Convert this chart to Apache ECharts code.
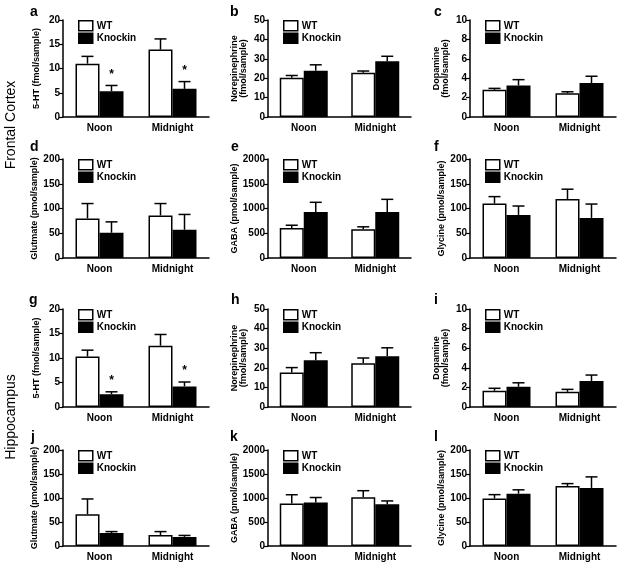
<!DOCTYPE html>
<html>
<head>
<meta charset="utf-8">
<script src="https://cdn.jsdelivr.net/npm/echarts@6/dist/echarts.min.js"></script>
<style>
html,body{margin:0;padding:0;background:#fff;}
#chart{width:624px;height:566px;}
</style>
</head>
<body>
<div id="chart"></div>
<script>
// ---------- data ----------
const categories = ['Noon', 'Midnight'];
const seriesNames = ['WT', 'Knockin'];
const panelLetters = ['a','b','c','d','e','f','g','h','i','j','k','l'];
const regionLabels = ['Frontal Cortex', 'Hippocampus'];
const yNames = [
  '5-HT (fmol/sample)', 'Norepinephrine\n(fmol/sample)', 'Dopamine\n(fmol/sample)',
  'Glutmate (pmol/sample)', 'GABA (pmol/sample)', 'Glycine (pmol/sample)',
  '5-HT (fmol/sample)', 'Norepinephrine\n(fmol/sample)', 'Dopamine\n(fmol/sample)',
  'Glutmate (pmol/sample)', 'GABA (pmol/sample)', 'Glycine (pmol/sample)'
];
const yMax      = [20, 50, 10, 200, 2000, 200, 20, 50, 10, 200, 2000, 200];
const yInterval = [5, 10, 2, 50, 500, 50, 5, 10, 2, 50, 500, 50];

// means and SEM per panel: [Noon, Midnight]
const wtMean = [[11.0,13.9],[20.2,22.8],[2.8,2.45],[80,86],[607,580],[110,119],
                [10.3,12.5],[17.6,22.3],[1.66,1.55],[66,23],[883,1017],[99,125]];
const wtSem  = [[1.5,2.2],[1.2,0.9],[0.15,0.15],[30,24],[55,50],[14,20],
                [1.3,2.3],[2.5,2.7],[0.25,0.25],[32,7],[185,135],[8,5]];
const kiMean = [[5.3,5.8],[23.9,28.7],[3.25,3.5],[51,57],[930,930],[87,81],
                [2.6,4.2],[23.9,25.9],[2.07,2.66],[27,19],[905,869],[109,121]];
const kiSem  = [[1.2,1.5],[3.0,2.6],[0.6,0.7],[22,31],[195,255],[18,28],
                [0.5,0.9],[3.8,4.3],[0.4,0.6],[3,3],[105,70],[8,23]];
const kiSig  = [[1,1],[0,0],[0,0],[0,0],[0,0],[0,0],
                [1,1],[0,0],[0,0],[0,0],[0,0],[0,0]];

// ---------- layout ----------
const FONT = 'Liberation Sans, Arial, Helvetica, sans-serif';
const cols = [{left:63, width:146}, {left:268, width:143}, {left:470, width:146}];
const rows = [{top:20, height:97}, {top:159, height:99}, {top:309, height:98}, {top:450, height:96}];
const letterPos = [[30,19],[230,19],[434,19],[30,154],[231,154],[434,154],
                   [29,307],[231,307],[434,307],[31,444],[230,444],[434,444]];
const BAR_W = 24;

const chart = echarts.init(document.getElementById('chart'), null, {renderer:'canvas'});

const grid = [], xAxis = [], yAxis = [], series = [], legend = [], graphic = [];

function errRender(offset) {
  return function (params, api) {
    const cat = api.value(0), mean = api.value(1), sem = api.value(2), sig = api.value(3);
    const base = api.coord([cat, mean]);
    const top = api.coord([cat, mean + sem]);
    const x = base[0] + offset;
    const children = [
      {type:'line', shape:{x1:x, y1:base[1], x2:x, y2:top[1]}, style:{stroke:'#000', lineWidth:1.5}},
      {type:'line', shape:{x1:x-6, y1:top[1], x2:x+6, y2:top[1]}, style:{stroke:'#000', lineWidth:1.5}}
    ];
    if (sig) {
      children.push({type:'text', x:x, y:top[1]-5,
        style:{text:'*', font:'bold 12px ' + FONT, fill:'#000', align:'center', verticalAlign:'bottom'}});
    }
    return {type:'group', children};
  };
}

for (let i = 0; i < 12; i++) {
  const r = Math.floor(i / 3), c = i % 3;
  grid.push({left: cols[c].left, width: cols[c].width, top: rows[r].top, height: rows[r].height, containLabel:false});
  xAxis.push({
    type:'category', gridIndex:i, data:categories,
    axisLine:{show:true, lineStyle:{color:'#000', width:1.5}},
    axisTick:{show:false},
    axisLabel:{color:'#000', fontWeight:'bold', fontSize:10, fontFamily:FONT, margin:6}
  });
  yAxis.push({
    type:'value', gridIndex:i, min:0, max:yMax[i], interval:yInterval[i],
    axisLine:{show:true, lineStyle:{color:'#000', width:1.5}},
    axisTick:{show:true, length:4, lineStyle:{color:'#000', width:1.2}},
    splitLine:{show:false},
    axisLabel:{color:'#000', fontWeight:'bold', fontSize:10, fontFamily:FONT, margin:3,
               formatter: v => String(v)},
    name:yNames[i], nameLocation:'middle', nameGap: yNames[i].indexOf('\n') >= 0 ? 20 : 22,
    nameTextStyle:{color:'#000', fontWeight:'bold', fontSize:9, fontFamily:FONT, lineHeight:9}
  });
  series.push({
    name:seriesNames[0], type:'bar', xAxisIndex:i, yAxisIndex:i, data:wtMean[i],
    barWidth:BAR_W, barGap:'0%',
    itemStyle:{color:'#fff', borderColor:'#000', borderWidth:1.5}, silent:true
  });
  series.push({
    name:seriesNames[1], type:'bar', xAxisIndex:i, yAxisIndex:i, data:kiMean[i],
    barWidth:BAR_W, barGap:'0%',
    itemStyle:{color:'#000', borderColor:'#000', borderWidth:1.5}, silent:true
  });
  series.push({
    name:'errWT', type:'custom', xAxisIndex:i, yAxisIndex:i, z:3,
    data: categories.map((_, k) => [k, wtMean[i][k], wtSem[i][k], 0]),
    encode:{x:0, y:1}, renderItem: errRender(-BAR_W/2), silent:true
  });
  series.push({
    name:'errKI', type:'custom', xAxisIndex:i, yAxisIndex:i, z:3,
    data: categories.map((_, k) => [k, kiMean[i][k], kiSem[i][k], kiSig[i][k]]),
    encode:{x:0, y:1}, renderItem: errRender(BAR_W/2), silent:true
  });
  legend.push({
    left: cols[c].left + 10, top: rows[r].top - 5, orient:'vertical',
    itemWidth:14, itemHeight:10, itemGap:1, selectedMode:false,
    textStyle:{color:'#000', fontWeight:'bold', fontSize:10, fontFamily:FONT, padding:[0,0,0,-1]},
    data:[
      {name:seriesNames[0], icon:'rect', itemStyle:{color:'#fff', borderColor:'#000', borderWidth:1.5}},
      {name:seriesNames[1], icon:'rect', itemStyle:{color:'#000', borderColor:'#000', borderWidth:1.5}}
    ]
  });
  graphic.push({
    type:'text', x:letterPos[i][0], y:letterPos[i][1],
    style:{text:panelLetters[i], font:'bold 14px ' + FONT, fill:'#000', align:'left', verticalAlign:'bottom'}
  });
}

graphic.push({
  type:'text', x:11, y:125, rotation:Math.PI/2,
  style:{text:regionLabels[0], font:'14px ' + FONT, fill:'#000', align:'center', verticalAlign:'middle'}
});
graphic.push({
  type:'text', x:11, y:417, rotation:Math.PI/2,
  style:{text:regionLabels[1], font:'14px ' + FONT, fill:'#000', align:'center', verticalAlign:'middle'}
});

chart.setOption({
  animation:false,
  backgroundColor:'#fff',
  textStyle:{fontFamily:FONT},
  grid, xAxis, yAxis, series, legend, graphic
});
</script>
</body>
</html>
